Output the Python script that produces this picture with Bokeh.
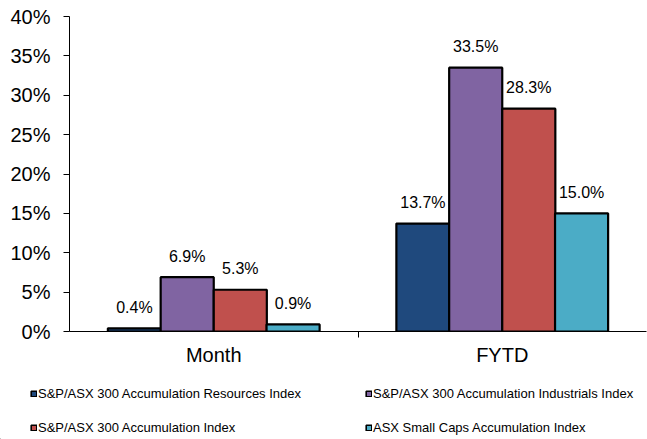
from bokeh.plotting import figure
from bokeh.layouts import column, row
from bokeh.models import (Range1d, FixedTicker, NumeralTickFormatter, Legend, LegendItem,
                          ColumnDataSource, LinearAxis)
from bokeh.embed import file_html
from bokeh.resources import INLINE

categories = ["Month", "FYTD"]
series_names = [
    "S&P/ASX 300 Accumulation Resources Index",
    "S&P/ASX 300 Accumulation Industrials Index",
    "S&P/ASX 300 Accumulation Index",
    "ASX Small Caps Accumulation Index",
]
resources = [0.4, 13.7]
industrials = [6.9, 33.5]
asx300 = [5.3, 28.3]
small_caps = [0.9, 15.0]
y_ticks = [0, 5, 10, 15, 20, 25, 30, 35, 40]

series_values = [resources, industrials, asx300, small_caps]
colors = ["#1F497D", "#8064A2", "#C0504D", "#4BACC6"]
offsets = [-0.275, -0.092, 0.092, 0.275]
bar_w = 0.184
FONT = "Liberation Sans"

p = figure(frame_width=577, frame_height=315,
           x_range=Range1d(0, len(categories)), y_range=Range1d(0, 0.40),
           output_backend="svg", toolbar_location=None,
           min_border_left=69, min_border_top=16, min_border_right=1,
           min_border_bottom=44, x_axis_type=None, y_axis_type=None)
p.outline_line_color = None
p.xgrid.visible = False
p.ygrid.visible = False
p.background_fill_color = "white"

for name, vals, col, off in zip(series_names, series_values, colors, offsets):
    xs = [i + 0.5 + off for i in range(len(categories))]
    tops = [v / 100.0 for v in vals]
    labels = ["%.1f%%" % v for v in vals]
    src = ColumnDataSource(dict(x=xs, top=tops, label=labels))
    p.vbar(x="x", top="top", width=bar_w, bottom=0, source=src,
           fill_color=col, line_color="black", line_width=2.2)
    p.text(x="x", y="top", text="label", source=src, text_align="center",
           text_baseline="alphabetic", y_offset=-21, text_font_size="16px",
           text_font={"value": FONT}, text_color="black")

# y axis
yaxis = LinearAxis(ticker=FixedTicker(ticks=[t / 100.0 for t in y_ticks], minor_ticks=[]),
                   formatter=NumeralTickFormatter(format="0%"))
yaxis.axis_line_color = "black"
yaxis.major_tick_in = 0
yaxis.major_tick_out = 6
yaxis.major_label_standoff = 13
yaxis.major_label_text_font = FONT
yaxis.major_label_text_font_size = "20px"
yaxis.major_label_text_color = "black"
p.add_layout(yaxis, "left")

# x axis
xaxis = LinearAxis(ticker=FixedTicker(ticks=[i + 0.5 for i in range(len(categories))],
                                      minor_ticks=list(range(1, len(categories)))))
xaxis.major_label_overrides = {i + 0.5: c for i, c in enumerate(categories)}
xaxis.axis_line_color = "black"
xaxis.major_tick_in = 0
xaxis.major_tick_out = 0
xaxis.minor_tick_in = 0
xaxis.minor_tick_out = 6
xaxis.minor_tick_line_color = "black"
xaxis.major_label_standoff = 6
xaxis.major_label_text_font = FONT
xaxis.major_label_text_font_size = "20px"
xaxis.major_label_text_color = "black"
p.add_layout(xaxis, "below")

# legend strip below the chart
p2 = figure(width=647, height=64, x_range=Range1d(0, 1), y_range=Range1d(0, 1),
            output_backend="svg", toolbar_location=None,
            min_border_left=0, min_border_right=0, min_border_top=0, min_border_bottom=0,
            x_axis_type=None, y_axis_type=None)
p2.outline_line_color = None
p2.xgrid.visible = False
p2.ygrid.visible = False
items = []
for name, col in zip(series_names, colors):
    # zero-height swatch bar kept outside the visible range; only its legend glyph is seen
    r = p2.vbar(x=[-1], top=[0], width=0.1, fill_color=col, line_color="black", line_width=1.6)
    items.append(LegendItem(label=name, renderers=[r]))

legend = Legend(items=items, location=(30, 4.5), orientation="horizontal", ncols=2)
legend.border_line_color = None
legend.background_fill_alpha = 0
legend.label_text_font = FONT
legend.label_text_font_size = "13px"
legend.label_text_color = "black"
legend.glyph_width = 7
legend.glyph_height = 7
legend.label_standoff = 1
legend.label_width = 308
legend.label_height = 13
legend.spacing = 19
legend.padding = 0
legend.margin = 0
p2.add_layout(legend)

layout = column(p, row(p2), spacing=0)
open("out.html", "w").write(file_html(layout, INLINE))
